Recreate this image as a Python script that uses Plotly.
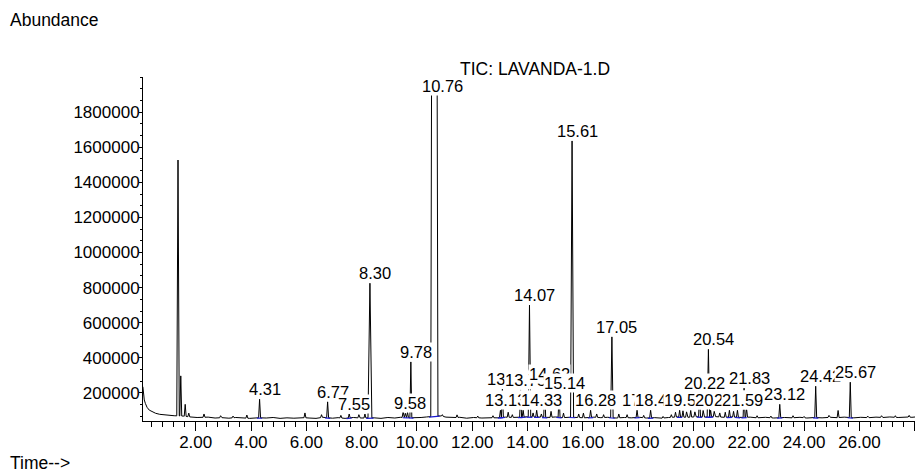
import numpy as np
import plotly.graph_objects as go

# ---------------- data ----------------
# baseline of the TIC trace: (retention time [min], abundance [thousands])
baseline_k = [
    (0.09, 235), (0.11, 190), (0.14, 160), (0.18, 140), (0.24, 118), (0.32, 102),
    (0.42, 92), (0.55, 84), (0.70, 78), (0.88, 74), (1.05, 71), (1.22, 70),
    (1.55, 68), (1.80, 63), (2.05, 60), (2.45, 62), (2.70, 57), (2.95, 59),
    (3.20, 56), (3.45, 60), (3.70, 58), (3.95, 55), (4.15, 59), (4.55, 57),
    (4.80, 60), (5.05, 55), (5.30, 58), (5.55, 56), (5.80, 60), (6.10, 57),
    (6.35, 55), (6.60, 61), (6.95, 56), (7.15, 59), (7.40, 55), (7.70, 60),
    (7.95, 57), (8.45, 58), (8.70, 55), (8.95, 60), (9.20, 57), (9.40, 61),
    (9.90, 58), (10.15, 60), (10.35, 63), (10.85, 70), (11.05, 62), (11.30, 59),
    (11.55, 61), (11.80, 56), (12.05, 60), (12.35, 57), (12.60, 59), (12.90, 58),
    (13.20, 62), (13.55, 60), (14.00, 64), (14.45, 62), (14.75, 60), (15.00, 63),
    (15.30, 59), (15.50, 62), (15.80, 60), (16.10, 58), (16.40, 62), (16.65, 59),
    (16.90, 61), (17.20, 57), (17.50, 60), (17.75, 58), (18.05, 61), (18.30, 57),
    (18.60, 59), (18.85, 56), (19.10, 60), (19.45, 63), (19.80, 61), (20.10, 64),
    (20.40, 62), (20.80, 65), (21.10, 61), (21.40, 63), (21.70, 60), (22.05, 62),
    (22.30, 58), (22.60, 61), (22.90, 57), (23.30, 60), (23.55, 58), (23.85, 61),
    (24.10, 57), (24.35, 60), (24.65, 58), (24.95, 61), (25.20, 59), (25.45, 62),
    (25.80, 58), (26.05, 61), (26.35, 59), (26.60, 62), (26.85, 60), (27.10, 63),
    (27.40, 60), (27.65, 64), (27.90, 61), (28.15, 65), (28.30, 62),
]
base_t = [p[0] for p in baseline_k]
base_v = [p[1] * 1000 for p in baseline_k]

# peak apexes: retention time [min] and abundance
peak_t = [1.36, 1.46, 1.62, 1.75, 2.30, 2.90, 3.35, 3.85, 4.31, 5.95,
          6.55, 6.77, 7.25, 7.55, 7.90, 8.12, 8.30, 9.50, 9.58, 9.66,
          9.78, 10.63, 10.92, 11.45, 12.20, 12.75, 13.02, 13.09, 13.30, 13.45,
          13.75, 13.84, 14.07, 14.20, 14.33, 14.50, 14.62, 14.85, 15.14, 15.30,
          15.61, 15.85, 16.02, 16.28, 16.50, 16.75, 17.05, 17.30, 17.60, 17.96,
          18.20, 18.45, 18.90, 19.20, 19.35, 19.50, 19.62, 19.75, 19.90, 20.05,
          20.22, 20.35, 20.54, 20.62, 20.75, 20.95, 21.15, 21.30, 21.45, 21.59,
          21.83, 21.92, 22.30, 22.80, 23.12, 23.60, 24.00, 24.42, 24.90, 25.23,
          25.67, 26.30, 26.80, 27.30, 27.80, 28.10]
peak_v = [1527000, 297000, 135000, 85000, 80000, 70000, 68000, 74000, 164000, 86000,
          76000, 150000, 72000, 80000, 76000, 80000, 825000, 92000, 84000, 90000,
          377000, 2050000, 76000, 75000, 68000, 70000, 101000, 221000, 90000, 76000,
          217000, 101000, 700000, 86000, 101000, 80000, 250000, 95000, 198000, 85000,
          1636000, 80000, 85000, 101000, 80000, 76000, 520000, 80000, 76000, 101000,
          72000, 101000, 66000, 76000, 90000, 101000, 98000, 92000, 100000, 92000,
          198000, 100000, 448000, 101000, 95000, 86000, 90000, 101000, 95000, 101000,
          227000, 110000, 70000, 68000, 135000, 70000, 66000, 238000, 72000, 100000,
          261000, 68000, 70000, 70000, 72000, 70000]

# retention-time labels printed above the peaks
peak_labels = ["4.31", "6.77", "7.55", "8.30", "9.58", "9.78", "10.76", "13.02",
               "13.09", "13.75", "13.84", "14.07", "14.33", "14.62", "15.14", "15.61",
               "16.28", "17.05", "17.96", "18.45", "19.50", "20.22", "20.54", "20.62",
               "21.30", "21.59", "21.83", "23.12", "24.42", "25.67"]

y_tick_vals = [200000, 400000, 600000, 800000, 1000000, 1200000, 1400000, 1600000, 1800000]
x_tick_vals = [2, 4, 6, 8, 10, 12, 14, 16, 18, 20, 22, 24, 26, 28]
x_tick_text = ["2.00", "4.00", "6.00", "8.00", "10.00", "12.00", "14.00", "16.00",
               "18.00", "20.00", "22.00", "24.00", "26.00", ""]

# ---------------- peak shape styling (half widths in minutes) ----------------
DEFAULT_HALF = 0.035
SHAPE = {8.30: (0.07, 0.0), 15.61: (0.055, 0.0), 1.36: (0.045, 0.0), 10.63: (0.13, 0.10),
         14.07: (0.045, 0.0), 17.05: (0.045, 0.0), 20.54: (0.045, 0.0)}


def foot(t):
    return float(np.interp(t, base_t, base_v))


pts = []
windows = []
for t, v in zip(peak_t, peak_v):
    w, p = SHAPE.get(t, (DEFAULT_HALF, 0.0))
    windows.append((t - w, t + w))
    pts.append((t - w, foot(t - w)))
    if p > 0:
        pts.append((t - p, v))
        pts.append((t + p, v))
    else:
        pts.append((t, v))
    pts.append((t + w, foot(t + w)))
for t, v in zip(base_t, base_v):
    if not any(a <= t <= b for a, b in windows):
        pts.append((t, v))
pts.sort(key=lambda q: q[0])
tr_x = [q[0] for q in pts]
tr_y = [q[1] for q in pts]

# integration baselines (blue) under labelled peaks
bl_x, bl_y = [], []
for lab in peak_labels:
    t = float(lab)
    i = int(np.argmin(np.abs(np.array(peak_t) - t)))
    pt = peak_t[i]
    w, p = SHAPE.get(pt, (DEFAULT_HALF, 0.0))
    a, b = pt - w - 0.06, pt + w + 0.06
    bl_x += [a, b, None]
    bl_y += [foot(a) - 2000, foot(b) - 2000, None]

FONT = "Liberation Sans, Arial, sans-serif"

fig = go.Figure()
fig.add_trace(go.Scatter(x=tr_x, y=tr_y, mode="lines",
                         line=dict(color="black", width=1), hoverinfo="skip"))
fig.add_trace(go.Scatter(x=bl_x, y=bl_y, mode="lines",
                         line=dict(color="#1a1ad0", width=1.2), hoverinfo="skip"))

Y_MAX = 2000000
annotations = []
for lab in peak_labels:
    t = float(lab)
    i = int(np.argmin(np.abs(np.array(peak_t) - t)))
    y = min(peak_v[i], 1890000)
    annotations.append(dict(x=t, y=y, xref="x", yref="y", text=lab, showarrow=False,
                            xanchor="center", yanchor="bottom", xshift=5,
                            bgcolor="white", borderpad=0,
                            font=dict(family=FONT, size=16.5, color="black")))

annotations += [
    dict(text="Abundance", xref="paper", yref="paper", x=-0.1731, y=1.2006,
         xanchor="left", yanchor="top", showarrow=False,
         font=dict(family=FONT, size=17.5, color="black")),
    dict(text="Time-->", xref="paper", yref="paper", x=-0.1731, y=-0.122,
         xanchor="left", yanchor="middle", showarrow=False,
         font=dict(family=FONT, size=17.5, color="black")),
    dict(text="TIC: LAVANDA-1.D", xref="paper", yref="paper", x=0.503, y=1.023,
         xanchor="center", yanchor="middle", showarrow=False,
         font=dict(family=FONT, size=17.5, color="black")),
]

# the page body adds an 8px offset, so the figure is 8px smaller than the window
fig.update_layout(
    width=915, height=466,
    margin=dict(l=135, r=0, t=69, b=53),
    paper_bgcolor="white", plot_bgcolor="white",
    showlegend=False,
    annotations=annotations,
    font=dict(family=FONT, size=17, color="black"),
    xaxis=dict(range=[0.094, 28.30], tickmode="array", tickvals=x_tick_vals,
               ticktext=x_tick_text, ticks="outside", ticklen=9, tickwidth=1,
               tickcolor="black", showline=True, linecolor="black", linewidth=1,
               showgrid=False, zeroline=False, ticklabelstandoff=-3,
               tickfont=dict(family=FONT, size=17, color="black"),
               minor=dict(tickmode="linear", tick0=0, dtick=0.4, ticks="outside",
                          ticklen=5, tickcolor="black", showgrid=False)),
    yaxis=dict(range=[40000, Y_MAX], tickmode="array", tickvals=y_tick_vals,
               ticktext=[str(v) for v in y_tick_vals], ticks="outside", ticklen=3,
               tickwidth=1, tickcolor="black", showline=True, linecolor="black",
               linewidth=1, showgrid=False, zeroline=False, ticklabelstandoff=-4,
               tickfont=dict(family=FONT, size=17, color="black"),
               minor=dict(tickmode="linear", tick0=0, dtick=200000 / 3, ticks="outside",
                          ticklen=2, tickcolor="black", showgrid=False)),
)

fig.write_html("out.html")
